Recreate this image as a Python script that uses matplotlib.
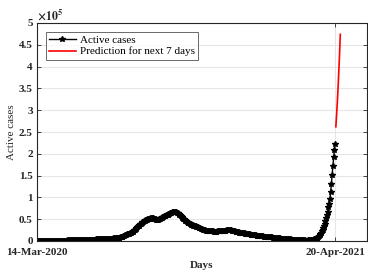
import matplotlib
matplotlib.use("Agg")
import matplotlib.pyplot as plt
import numpy as np

# Active cases (in thousands), one value per day starting 14-Mar-2020
active_k = [
    0.01,0.01,0.01,0.01,0.02,0.02,0.02,0.03,0.03,0.04,
    0.04,0.05,0.06,0.07,0.08,0.09,0.1,0.11,0.12,0.14,
    0.17,0.21,0.26,0.3,0.34,0.38,0.42,0.46,0.5,0.55,
    0.6,0.66,0.72,0.78,0.84,0.9,0.96,1.0,1.05,1.1,
    1.14,1.18,1.22,1.25,1.28,1.3,1.33,1.36,1.4,1.44,
    1.48,1.52,1.56,1.6,1.65,1.7,1.75,1.8,1.86,1.92,
    1.98,2.05,2.12,2.2,2.28,2.36,2.44,2.52,2.6,2.68,
    2.76,2.84,2.92,3.0,3.08,3.16,3.24,3.32,3.4,3.48,
    3.56,3.64,3.72,3.8,3.88,3.96,4.04,4.12,4.2,4.28,
    4.36,4.44,4.52,4.6,4.68,4.76,4.85,4.95,5.05,5.15,
    5.3,5.45,5.6,5.8,6.0,6.2,6.4,6.6,6.8,7.0,
    7.3,7.7,8.1,8.7,9.4,10.2,11.1,12.0,12.9,13.8,
    14.6,15.3,15.9,16.5,17.0,17.6,18.3,19.2,20.3,21.6,
    23.0,24.6,26.3,28.0,29.8,31.6,33.4,35.1,36.8,38.4,
    40.0,41.5,42.9,44.2,45.3,46.3,47.2,48.0,48.7,49.4,
    50.1,50.8,51.5,52.2,52.7,53.0,52.8,52.2,51.4,50.5,
    49.6,48.8,48.5,48.8,49.5,50.5,51.6,52.7,53.8,54.8,
    55.7,56.5,57.3,58.1,58.8,59.5,60.3,61.2,62.2,63.2,
    64.2,65.1,65.8,66.4,66.8,67.1,67.0,66.5,65.7,64.7,
    63.5,62.1,60.5,58.8,57.0,55.2,53.4,51.6,49.8,48.1,
    46.5,45.0,43.6,42.4,41.3,40.3,39.4,38.5,37.7,36.9,
    36.2,35.5,34.8,34.1,33.5,32.8,32.1,31.3,30.5,29.7,
    28.9,28.1,27.4,26.7,26.0,25.4,24.8,24.3,23.9,23.5,
    23.1,22.8,22.5,22.3,22.1,22.0,21.9,21.8,21.8,21.7,
    21.7,21.7,21.7,21.8,21.8,21.9,21.9,22.0,22.0,22.1,
    22.3,22.6,23.0,23.5,24.0,24.5,24.9,25.1,25.2,25.1,
    24.9,24.6,24.2,23.8,23.3,22.8,22.3,21.8,21.3,20.8,
    20.4,20.0,19.7,19.4,19.1,18.8,18.5,18.2,17.9,17.6,
    17.3,17.0,16.7,16.4,16.1,15.8,15.5,15.2,14.9,14.6,
    14.3,14.0,13.7,13.4,13.1,12.8,12.5,12.2,11.9,11.7,
    11.5,11.3,11.1,10.9,10.7,10.5,10.3,10.1,9.9,9.7,
    9.5,9.3,9.1,8.9,8.7,8.5,8.3,8.1,7.9,7.7,
    7.5,7.3,7.1,6.9,6.7,6.5,6.3,6.1,5.9,5.7,
    5.5,5.3,5.1,4.9,4.7,4.5,4.4,4.3,4.2,4.1,
    4.0,3.8,3.6,3.4,3.2,3.0,2.8,2.6,2.4,2.2,
    2.1,2.0,1.9,1.8,1.7,1.6,1.5,1.4,1.3,1.25,
    1.2,1.15,1.1,1.1,1.1,1.2,1.4,1.6,1.9,2.2,
    2.5,2.9,3.3,3.8,4.4,5.1,5.9,6.9,8.0,9.3,
    11.0,13.0,15.5,18.5,22.0,26.0,30.0,34.5,40.0,46.0,
    52.0,59.0,67.0,77.0,86.0,97.0,112.0,131.0,151.0,171.0,
    192.0,208.0,222.0,
]

# Prediction for the next 7 days (in thousands)
pred_k = [262, 289, 319, 352, 389, 429, 474]

x_tick_labels = ["14-Mar-2020", "20-Apr-2021"]
y_tick_vals = [0, 0.5, 1, 1.5, 2, 2.5, 3, 3.5, 4, 4.5, 5]
y_tick_labels = ["0", "0.5", "1", "1.5", "2", "2.5", "3", "3.5", "4", "4.5", "5"]

active = np.array(active_k) * 1e3
pred = np.array(pred_k) * 1e3
days = np.arange(len(active))
pred_days = np.arange(len(active), len(active) + len(pred))

plt.rcParams['font.family'] = ['Liberation Serif', 'DejaVu Serif']
plt.rcParams['mathtext.fontset'] = 'stix'

fig = plt.figure(figsize=(3.68, 2.73), dpi=100)
ax = fig.add_axes([37/368, 32/273, 330/368, 218/273])

dark = '#262626'
ax.plot(days, active, '-*', color='black', markersize=4, linewidth=1,
        label='Active cases')
ax.plot(pred_days, pred, '-', color='red', linewidth=1.2,
        label='Prediction for next 7 days')

ax.set_xlim(0, 445)
ax.set_ylim(0, 5e5)
ax.set_xticks([days[0], days[-1]])
ax.set_xticklabels(x_tick_labels, fontweight='bold', fontsize=8, color=dark)
ax.set_yticks([v * 1e5 for v in y_tick_vals])
ax.set_yticklabels(y_tick_labels, fontweight='bold', fontsize=8, color=dark)

ax.grid(True, color='#e6e6e6', linewidth=0.8)
ax.set_axisbelow(True)
ax.tick_params(direction='in', length=3, width=0.6, top=True, right=True,
               colors=dark)
ax.tick_params(axis='x', pad=5)
ax.tick_params(axis='y', pad=3)
for s in ax.spines.values():
    s.set_color(dark)
    s.set_linewidth(0.8)

ax.set_xlabel('Days', fontweight='bold', fontsize=8, color=dark, labelpad=3)
ax.set_ylabel('Active cases', fontsize=8, color=dark, labelpad=2)
ax.text(0.0, 1.003, r'$\mathbf{\times 10^5}$', transform=ax.transAxes,
        fontsize=8.5, color=dark, ha='left', va='bottom')

leg = ax.legend(loc='upper left', bbox_to_anchor=(0.026, 0.959), borderaxespad=0,
                fontsize=8, frameon=True, fancybox=False, handlelength=2.4,
                borderpad=0.3, labelspacing=0.15, handletextpad=0.4)
leg.get_frame().set_edgecolor(dark)
leg.get_frame().set_linewidth(0.6)

fig.savefig('out.png', dpi=100)
